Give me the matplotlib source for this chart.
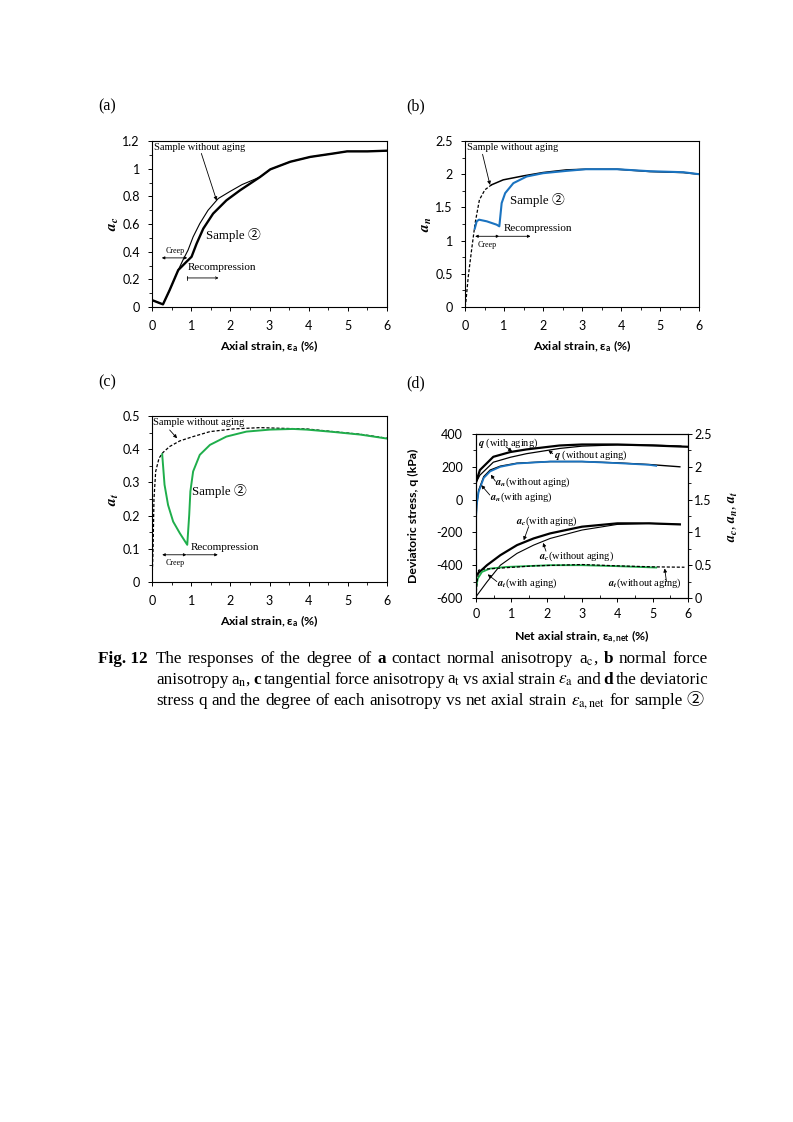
import matplotlib
matplotlib.use('Agg')
import matplotlib.pyplot as plt
from matplotlib.ticker import MultipleLocator

# ---------------- data ----------------
# (a) contact normal anisotropy a_c
a_x_woa = [0.0, 0.28, 0.45, 0.67, 0.79, 0.92, 1.05, 1.22, 1.43, 1.69, 1.99, 2.3, 2.76, 3.02, 3.53, 4.04, 4.64, 4.98, 5.5, 6.0]
a_y_woa = [0.05, 0.019, 0.122, 0.267, 0.339, 0.411, 0.507, 0.603, 0.699, 0.784, 0.835, 0.885, 0.94, 0.995, 1.05, 1.085, 1.11, 1.125, 1.125, 1.13]
a_x_s2 = [0.0, 0.28, 0.45, 0.67, 0.88, 1.01, 1.14, 1.31, 1.56, 1.90, 2.25, 2.76, 3.02, 3.53, 4.04, 4.64, 4.98, 5.5, 6.0]
a_y_s2 = [0.05, 0.019, 0.122, 0.267, 0.327, 0.363, 0.459, 0.567, 0.675, 0.771, 0.844, 0.94, 0.995, 1.05, 1.085, 1.11, 1.125, 1.125, 1.13]

# (b) normal force anisotropy a_n
b_x_woa = [0.0, 0.02, 0.085, 0.17, 0.26, 0.37, 0.51, 0.68, 0.98, 1.5, 2.0, 2.6, 3.1, 3.9, 4.74, 5.6, 6.0]
b_y_woa = [0.0, 0.065, 0.465, 0.865, 1.265, 1.615, 1.765, 1.84, 1.915, 1.975, 2.025, 2.065, 2.075, 2.075, 2.04, 2.025, 2.0]
b_x_s2 = [0.25, 0.3, 0.36, 0.56, 0.81, 0.88, 0.94, 1.03, 1.24, 1.58, 2.0, 2.6, 3.1, 3.9, 4.74, 5.6, 6.0]
b_y_s2 = [1.18, 1.29, 1.315, 1.29, 1.24, 1.215, 1.565, 1.715, 1.865, 1.965, 2.015, 2.05, 2.075, 2.075, 2.045, 2.03, 2.0]

# (c) tangential force anisotropy a_t
c_x_woa = [0.0, 0.026, 0.05, 0.094, 0.18, 0.28, 0.45, 0.71, 1.05, 1.48, 2.07, 2.76, 3.27, 3.95, 4.63, 5.32, 6.0]
c_y_woa = [0.0, 0.092, 0.25, 0.333, 0.373, 0.39, 0.408, 0.425, 0.438, 0.453, 0.461, 0.465, 0.463, 0.461, 0.453, 0.445, 0.433]
c_x_s2 = [0.26, 0.32, 0.41, 0.54, 0.71, 0.9, 0.95, 0.98, 1.05, 1.22, 1.48, 1.9, 2.41, 3.01, 3.6, 3.95, 4.63, 5.32, 6.0]
c_y_s2 = [0.385, 0.293, 0.232, 0.182, 0.147, 0.112, 0.202, 0.273, 0.333, 0.383, 0.413, 0.438, 0.453, 0.459, 0.461, 0.459, 0.452, 0.444, 0.432]

# (d) deviatoric stress and anisotropies vs net axial strain
d_x_q_wa = [0.0, 0.11, 0.49, 0.97, 1.43, 2.37, 3.0, 4.0, 5.0, 6.0]
d_q_wa = [105, 180, 261, 290, 306, 330, 336, 336, 330, 322]
d_x_q_woa = [0.0, 0.11, 0.49, 0.97, 1.43, 2.37, 3.0, 4.0, 5.0, 5.8]
d_q_woa = [105, 149, 228, 258, 280, 312, 326, 334, 332, 326]

d_x_an_wa = [0.0, 0.02, 0.075, 0.22, 0.4, 0.69, 1.16, 2.1, 3.0, 4.0, 4.9, 5.1]
d_an_wa = [1.22, 1.42, 1.62, 1.83, 1.93, 2.0, 2.05, 2.08, 2.08, 2.056, 2.03, 2.015]
d_x_an_woa = [0.0, 0.02, 0.075, 0.22, 0.4, 0.69, 1.16, 2.1, 3.0, 4.0, 4.9, 5.77]
d_an_woa = [1.2, 1.42, 1.64, 1.85, 1.95, 2.01, 2.055, 2.08, 2.08, 2.06, 2.035, 2.0]

d_x_ac_wa = [0.0, 0.31, 0.69, 1.16, 1.63, 2.1, 3.0, 4.0, 4.9, 5.77]
d_ac_wa = [0.347, 0.5, 0.653, 0.806, 0.908, 0.985, 1.087, 1.138, 1.138, 1.122]
d_x_ac_woa = [0.0, 0.31, 0.69, 1.16, 1.63, 2.1, 3.0, 4.0, 4.9, 5.77]
d_ac_woa = [0.02, 0.245, 0.5, 0.68, 0.806, 0.908, 1.036, 1.122, 1.138, 1.122]

d_x_at_wa = [0.0, 0.05, 0.17, 0.4, 0.87, 2.1, 3.0, 4.0, 5.1]
d_at_wa = [0.143, 0.296, 0.398, 0.449, 0.474, 0.5, 0.5, 0.485, 0.464]
d_x_at_woa = [0.0, 0.03, 0.075, 0.2, 0.5, 1.63, 3.0, 4.0, 5.0, 5.9]
d_at_woa = [0.02, 0.25, 0.423, 0.44, 0.449, 0.49, 0.51, 0.49, 0.475, 0.469]

x_ticks = [0, 1, 2, 3, 4, 5, 6]

# ---------------- style ----------------
plt.rcParams['font.family'] = ['Lato', 'DejaVu Sans']
plt.rcParams['mathtext.fontset'] = 'custom'
plt.rcParams['mathtext.rm'] = 'Lato:bold'
plt.rcParams['mathtext.bf'] = 'Lato:bold'
plt.rcParams['mathtext.it'] = 'Lato:italic'

SERIF = ['Liberation Serif', 'Noto Sans CJK JP']
BLUE = '#1a73c0'
GREEN = '#1fae4b'
W, H = 793, 1122
TICK = 9
LAB = 8.8

fig = plt.figure(figsize=(W / 100, H / 100), dpi=100)


def axes_px(l, t, r, b):
    return fig.add_axes([l / W, 1 - b / H, (r - l) / W, (b - t) / H])


def style(ax, ymin, ymax, ymaj, ymnr, xpad=6.5, ypad=5.8):
    ax.set_xlim(0, 6)
    ax.set_ylim(ymin, ymax)
    ax.set_xticks(x_ticks)
    ax.xaxis.set_minor_locator(MultipleLocator(0.5))
    ax.yaxis.set_major_locator(MultipleLocator(ymaj))
    ax.yaxis.set_minor_locator(MultipleLocator(ymnr))
    ax.tick_params(which='major', direction='out', length=3, width=0.7,
                   labelsize=TICK, colors='black')
    ax.tick_params(which='minor', direction='out', length=2, width=0.6)
    ax.tick_params(axis='x', which='major', pad=xpad)
    ax.tick_params(axis='y', which='major', pad=ypad)
    for s in ax.spines.values():
        s.set_linewidth(0.8)
    ax.yaxis.set_major_formatter(plt.FuncFormatter(lambda v, p: ('%g' % v)))


def xlab(ax, s, pad=4.1):
    ax.set_xlabel(s, fontsize=LAB, fontweight='bold', labelpad=pad, math_fontfamily='custom')


def ylab_a(ax, s, pad=0.8):
    ax.set_ylabel(s, fontsize=11, math_fontfamily='stix', labelpad=pad)


def note(ax, s, x, y, size=7, **kw):
    ax.text(x, y, s, fontsize=size, family=SERIF, math_fontfamily='stix',
            va='center', ha=kw.pop('ha', 'left'), **kw)


def arrow(ax, xy_from, xy_to, style='-|>', lw=0.6, ms=5):
    ax.annotate('', xy=xy_to, xytext=xy_from,
                arrowprops=dict(arrowstyle=style, lw=lw, color='black',
                                mutation_scale=ms, shrinkA=0, shrinkB=0))


# panel labels
for lab, x, y in [('(a)', 98, 106), ('(b)', 406, 106), ('(c)', 98, 382), ('(d)', 406, 383)]:
    fig.text(x / W, 1 - y / H, lab, fontsize=11.5, family=SERIF, ha='left', va='center')

# ---------- (a) ----------
ax = axes_px(152, 141, 387, 307)
style(ax, 0, 1.2, 0.2, 0.1)
ax.plot(a_x_woa, a_y_woa, color='black', lw=0.8)
ax.plot(a_x_s2, a_y_s2, color='black', lw=1.7)
xlab(ax, r'Axial strain, ε$_\mathbf{a}$ (%)')
ylab_a(ax, r'$\mathbfit{a_c}$')
note(ax, 'Sample without aging', 0.05, 1.15, 7.5)
arrow(ax, (1.26, 1.11), (1.65, 0.77))
note(ax, 'Sample ②', 1.39, 0.52, 9.3)
arrow(ax, (0.25, 0.355), (0.9, 0.355), '<|-|>', ms=4)
note(ax, 'Creep', 0.6, 0.405, 5.8, ha='center')
note(ax, 'Recompression', 0.9, 0.285, 8)
arrow(ax, (0.9, 0.21), (1.7, 0.21), ']->, widthA=0.35, lengthA=0', ms=4)

# ---------- (b) ----------
ax = axes_px(465, 141, 699, 307)
style(ax, 0, 2.5, 0.5, 0.25)
ax.plot(b_x_woa[:8], b_y_woa[:8], color='black', lw=0.9, ls=(0, (2.5, 1.5)))
ax.plot(b_x_woa[7:], b_y_woa[7:], color='black', lw=1.1)
ax.plot(b_x_s2, b_y_s2, color=BLUE, lw=1.5)
xlab(ax, r'Axial strain, ε$_\mathbf{a}$ (%)')
ylab_a(ax, r'$\mathbfit{a_n}$')
note(ax, 'Sample without aging', 0.04, 2.4, 7.5)
arrow(ax, (0.45, 2.3), (0.64, 1.84))
note(ax, 'Sample ②', 1.15, 1.615, 9.3)
arrow(ax, (0.26, 1.065), (0.88, 1.065), '<|-|>', ms=4)
note(ax, 'Creep', 0.56, 0.94, 5.8, ha='center')
arrow(ax, (0.88, 1.065), (1.68, 1.065), '-|>', ms=4)
note(ax, 'Recompression', 0.98, 1.175, 8)

# ---------- (c) ----------
ax = axes_px(152, 416, 387, 582)
style(ax, 0, 0.5, 0.1, 0.05)
ax.plot(c_x_woa, c_y_woa, color='black', lw=0.9, ls=(0, (2.5, 1.5)))
ax.plot(c_x_s2, c_y_s2, color=GREEN, lw=1.4)
xlab(ax, r'Axial strain, ε$_\mathbf{a}$ (%)')
ylab_a(ax, r'$\mathbfit{a_t}$')
note(ax, 'Sample without aging', 0.03, 0.481, 7.5)
arrow(ax, (0.45, 0.458), (0.64, 0.433))
note(ax, 'Sample ②', 1.03, 0.273, 9.3)
note(ax, 'Recompression', 0.98, 0.105, 8)
arrow(ax, (0.26, 0.082), (0.88, 0.082), '<|-|>', ms=4)
arrow(ax, (0.88, 0.082), (1.68, 0.082), '-|>', ms=4)
note(ax, 'Creep', 0.58, 0.057, 5.8, ha='center')

# ---------- (d) ----------
axd = axes_px(476, 434, 688, 598)
style(axd, -600, 400, 200, 100, xpad=4.5, ypad=6.5)
axd.tick_params(axis='x', which='minor', direction='in')
ax2 = axd.twinx()
ax2.set_ylim(0, 2.5)
ax2.yaxis.set_major_locator(MultipleLocator(0.5))
ax2.yaxis.set_minor_locator(MultipleLocator(0.25))
ax2.tick_params(which='major', direction='out', length=3, width=0.7, labelsize=TICK, pad=1.5)
ax2.tick_params(which='minor', direction='out', length=2, width=0.6)
ax2.yaxis.set_major_formatter(plt.FuncFormatter(lambda v, p: ('%g' % v)))
for s in ax2.spines.values():
    s.set_linewidth(0.8)

axd.plot(d_x_q_woa, d_q_woa, color='black', lw=0.9)
axd.plot(d_x_q_wa, d_q_wa, color='black', lw=1.6)
ax2.plot(d_x_an_woa, d_an_woa, color='black', lw=1.0)
ax2.plot(d_x_an_wa, d_an_wa, color=BLUE, lw=1.3)
ax2.plot(d_x_ac_woa, d_ac_woa, color='black', lw=0.8)
ax2.plot(d_x_ac_wa, d_ac_wa, color='black', lw=1.6)
ax2.plot(d_x_at_wa, d_at_wa, color=GREEN, lw=1.3)
ax2.plot(d_x_at_woa, d_at_woa, color='black', lw=0.9, ls=(0, (2.5, 1.5)))

xlab(axd, r'Net axial strain, ε$_\mathbf{a,net}$ (%)', pad=6.1)
axd.set_ylabel('Deviatoric stress, q (kPa)', fontsize=LAB, fontweight='bold', labelpad=12.4)
ax2.set_ylabel(r'$\mathbfit{a_c}$, $\mathbfit{a_n}$, $\mathbfit{a_t}$', fontsize=10,
               family=SERIF, math_fontfamily='stix', labelpad=10.6)

NS = 7.5
note(axd, r'$\mathbfit{q}$ (with aging)', 0.05, 345, NS)
arrow(axd, (0.85, 322), (1.02, 293))
note(axd, r'$\mathbfit{q}$ (without aging)', 2.2, 273, NS)
arrow(axd, (2.17, 280), (2.05, 300))
note(ax2, r'$\mathbfit{a_n}$(without aging)', 0.53, 1.76, NS)
arrow(ax2, (0.55, 1.78), (0.42, 1.88))
note(ax2, r'$\mathbfit{a_n}$(with aging)', 0.4, 1.535, NS)
arrow(ax2, (0.39, 1.57), (0.15, 1.72))
note(ax2, r'$\mathbfit{a_c}$(with aging)', 1.13, 1.163, NS)
arrow(ax2, (1.49, 1.087), (1.35, 0.88))
note(ax2, r'$\mathbfit{a_c}$(without aging)', 1.77, 0.643, NS)
arrow(ax2, (1.98, 0.714), (1.9, 0.84))
note(ax2, r'$\mathbfit{a_t}$(with aging)', 0.59, 0.219, NS)
arrow(ax2, (0.59, 0.25), (0.33, 0.36))
note(ax2, r'$\mathbfit{a_t}$(without aging)', 3.74, 0.219, NS)
arrow(ax2, (5.39, 0.25), (5.34, 0.45))

# ---------------- caption ----------------
renderer = fig.canvas.get_renderer()
CAP = 12.3


def place_line(tokens, x0, x1, ybase, justify=True):
    texts = []
    for s, bold in tokens:
        t = fig.text(0, 1 - ybase / H, s, fontsize=CAP, family=SERIF,
                     fontweight='bold' if bold else 'normal',
                     math_fontfamily='stix', ha='left', va='baseline')
        texts.append(t)
    widths = [t.get_window_extent(renderer).width for t in texts]
    if justify and len(texts) > 1:
        gap = (x1 - x0 - sum(widths)) / (len(texts) - 1)
    else:
        gap = CAP * 100 / 72 * 0.25
    x = x0
    for t, w in zip(texts, widths):
        t.set_x(x / W)
        x += w + gap


def toks(s, bold_words=()):
    out = []
    for w in s.split(' '):
        out.append((w, w in bold_words))
    return out


fig.text(98 / W, 1 - 663 / H, 'Fig. 12', fontsize=CAP, family=SERIF,
         fontweight='bold', ha='left', va='baseline')
line1 = toks(r'The responses of the degree of a contact normal anisotropy a$_\mathrm{c}$, b normal force', ('a', 'b'))
line2 = toks(r'anisotropy a$_\mathrm{n}$, c tangential force anisotropy a$_\mathrm{t}$ vs axial strain $\varepsilon_\mathrm{a}$ and d the deviatoric', ('c', 'd'))
line3 = toks(r'stress q and the degree of each anisotropy vs net axial strain $\varepsilon_\mathrm{a,net}$ for sample ②')
place_line(line1, 156, 708, 663)
place_line(line2, 156, 708, 684)
place_line(line3, 156, 708, 705, justify=False)

fig.savefig('out.png', dpi=100)
